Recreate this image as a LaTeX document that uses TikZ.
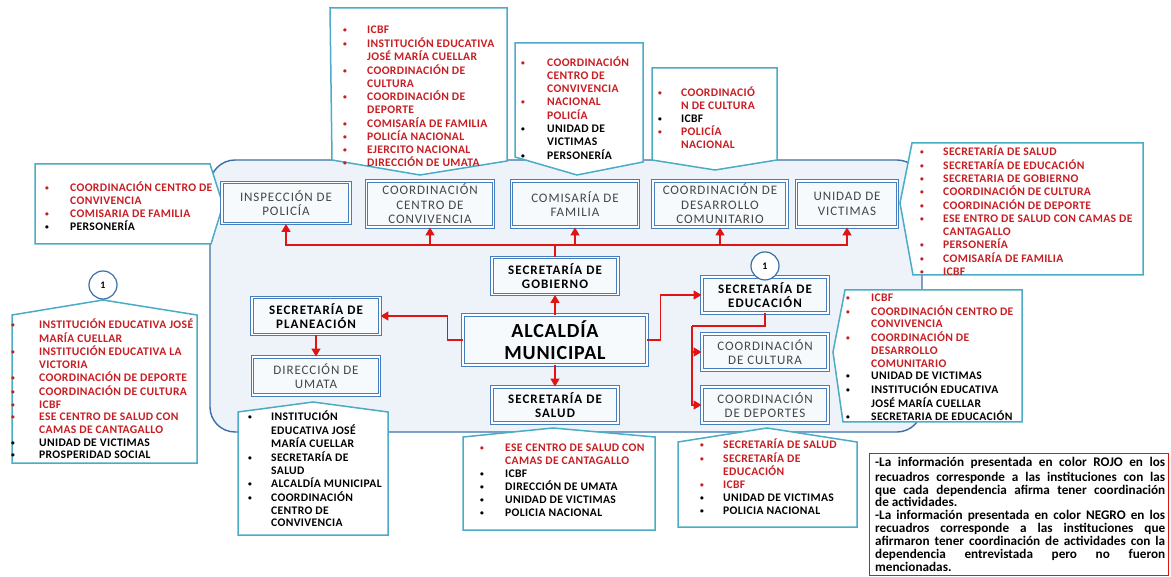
\documentclass[tikz,border=0pt]{standalone}
\usepackage{fontspec}
\setmainfont{Carlito}
\usepackage{xcolor}
\usetikzlibrary{arrows.meta, positioning}

\definecolor{rojotxt}{RGB}{200,30,35}
\definecolor{rojoflecha}{RGB}{225,20,20}
\definecolor{azulcaja}{RGB}{70,125,190}
\definecolor{azulpanel}{RGB}{60,110,170}
\definecolor{fondopanel}{RGB}{238,243,250}
\definecolor{borde}{RGB}{75,172,198}
\definecolor{grisbox}{RGB}{70,70,70}

% listas con viñetas
\newcommand{\vin}{{\fontsize{7.5}{7.5}\selectfont\raisebox{1pt}{\textbullet}}}
\newcommand{\lista}[2]{\begin{tabular}[t]{@{}p{#1}@{}l@{}}#2\end{tabular}}
\newcommand{\rb}[1]{\textcolor{rojotxt}{\vin} & \textcolor{rojotxt}{#1}\\}
\newcommand{\rc}[1]{ & \textcolor{rojotxt}{#1}\\}
\newcommand{\nb}[1]{\vin & #1\\}
\newcommand{\nc}[1]{ & #1\\}
% renglón justificado de la leyenda
\newcommand{\rj}[1]{\makebox[290pt][s]{#1}\\}

\begin{document}
\begin{tikzpicture}[x=1pt, y=-1pt,
        panel/.style={draw=azulpanel, line width=1.4pt, fill=fondopanel, rounded corners=25pt},
        caja/.style={draw=azulcaja, double=white, double distance=1.4pt, line width=0.9pt, fill=white!55!fondopanel, align=center, text=grisbox, inner sep=1pt, font=\fontsize{13}{14.5}\selectfont\addfontfeature{LetterSpace=7}},
        cajan/.style={caja, text=black, font=\bfseries\fontsize{13}{14.5}\selectfont\addfontfeature{LetterSpace=8}},
        globo/.style={draw=borde, line width=1.5pt, fill=white, line join=miter},
        lst/.style={anchor=base west, inner sep=0pt, font=\bfseries\fontsize{11.6}{12.8}\selectfont\addfontfeature{LetterSpace=3}},
        uno/.style={circle, draw=azulpanel, line width=1.2pt, fill=white, minimum size=28pt, inner sep=0pt, font=\bfseries\fontsize{10}{12}\selectfont},
        linea/.style={draw=rojoflecha, line width=1.4pt},
        flecha/.style={linea, -{Triangle[width=9pt,length=8pt]}}
    ]
    \useasboundingbox (0,0) rectangle (1171,577);

    % panel de fondo
    \draw[panel] (210,160) rectangle (922,432);

    % recuadros (globos)
    \draw[globo] (35,164) -- (210,164) -- (223,205) -- (211,244) -- (35,244) -- cycle;
    \draw[globo] (330,8) -- (507,8) -- (507,161) -- (420,175) -- (332,160) -- cycle;
    \draw[globo] (515,43) -- (643,43) -- (643,162) -- (577,175) -- (515,157) -- cycle;
    \draw[globo] (652,68) -- (777,68) -- (777,160) -- (715,170) -- (652,160) -- cycle;
    \draw[globo] (912,143) -- (1143,143) -- (1143,275) -- (913,275) -- (900,203) -- cycle;
    \draw[globo] (12,315) -- (103,300) -- (197,315) -- (197,463) -- (12,463) -- cycle;
    \draw[globo] (238,412) -- (313,402) -- (388,412) -- (388,535) -- (238,535) -- cycle;
    \draw[globo] (463,437) -- (553,428) -- (655,437) -- (655,530) -- (463,530) -- cycle;
    \draw[globo] (678,442) -- (767,428) -- (857,442) -- (857,527) -- (678,527) -- cycle;
    \draw[globo] (845,290) -- (1022,290) -- (1022,422) -- (843,422) -- (833,352) -- cycle;

    % dependencias
    \node[caja, minimum width=128pt, minimum height=41pt] (insp) at (286,203) {INSPECCIÓN DE\\POLICÍA};
    \node[caja, minimum width=127pt, minimum height=46pt] (conv) at (430,204) {COORDINACIÓN\\CENTRO DE\\CONVIVENCIA};
    \node[caja, minimum width=127pt, minimum height=46pt] (comi) at (575,204) {COMISARÍA DE\\FAMILIA};
    \node[caja, minimum width=134pt, minimum height=46pt] (desa) at (720,204) {COORDINACIÓN DE\\DESARROLLO\\COMUNITARIO};
    \node[caja, minimum width=101pt, minimum height=46pt] (unid) at (847,204) {UNIDAD DE\\VICTIMAS};
    \node[cajan, minimum width=126pt, minimum height=37pt] (gob) at (555,276) {SECRETARÍA DE\\GOBIERNO};
    \node[cajan, minimum width=184pt, minimum height=50pt, font=\bfseries\fontsize{20}{22}\selectfont\addfontfeature{LetterSpace=4}] (alc) at (555,340) {ALCALDÍA\\MUNICIPAL};
    \node[cajan, minimum width=126pt, minimum height=36pt] (sal) at (555,405) {SECRETARÍA DE\\SALUD};
    \node[cajan, minimum width=128pt, minimum height=37pt] (plan) at (316,316) {SECRETARÍA DE\\PLANEACIÓN};
    \node[caja, minimum width=127pt, minimum height=38pt] (uma) at (316,376) {DIRECCIÓN DE\\UMATA};
    \node[cajan, minimum width=126pt, minimum height=36pt] (edu) at (765,295) {SECRETARÍA DE\\EDUCACIÓN};
    \node[caja, minimum width=126pt, minimum height=36pt] (cult) at (765,352) {COORDINACIÓN\\DE CULTURA};
    \node[caja, minimum width=126pt, minimum height=36pt] (dep) at (765,405) {COORDINACIÓN\\DE DEPORTES};

    % conexiones
    \coordinate (bus) at (555,245);
    \coordinate (ramal) at (692,326);
    \draw[linea] (gob.north) -- (bus);
    \draw[flecha] (bus) -| (insp.south);
    \draw[flecha] (bus) -| (conv.south);
    \draw[flecha] (bus) -| (comi.south);
    \draw[flecha] (bus) -| (desa.south);
    \draw[flecha] (bus) -| (unid.south);
    \draw[flecha] (alc) -- (gob);
    \draw[flecha] (alc) -- (sal);
    \draw[flecha] (alc.west) -- ++(-15,0) |- (plan.east);
    \draw[flecha] (plan) -- (uma);
    \draw[flecha] (alc.east) -- ++(13,0) |- (edu.west);
    \draw[linea] (edu.south) |- (ramal);
    \draw[flecha] (ramal) |- (cult.west);
    \draw[flecha] (ramal) |- (dep.west);

    % marcas 1
    \node[uno] (uno1) at (103,285) {1};
    \node[uno, above=-4pt of edu] (uno2) {1};

    % textos de los recuadros
    \node[lst] (t1) at (45,191.5) {\lista{25pt}{\rb{COORDINACIÓN CENTRO DE}\rc{CONVIVENCIA}\rb{COMISARIA DE FAMILIA}\nb{PERSONERÍA}}};
    \node[lst] (t2) at (343,33.5) {\lista{24pt}{\rb{ICBF}\rb{INSTITUCIÓN EDUCATIVA}\rc{JOSÉ MARÍA CUELLAR}\rb{COORDINACIÓN DE}\rc{CULTURA}\rb{COORDINACIÓN DE}\rc{DEPORTE}\rb{COMISARÍA DE FAMILIA}\rb{POLICÍA NACIONAL}\rb{EJERCITO NACIONAL}\rb{DIRECCIÓN DE UMATA}}};
    \node[lst, font=\bfseries\fontsize{11.6}{13.1}\selectfont\addfontfeature{LetterSpace=3}] (t3) at (521,66.5) {\lista{26pt}{\rb{COORDINACIÓN}\rc{CENTRO DE}\rc{CONVIVENCIA}\rb{NACIONAL}\rc{POLICÍA}\nb{UNIDAD DE}\nc{VICTIMAS}\nb{PERSONERÍA}}};
    \node[lst] (t4) at (658,96.5) {\lista{23pt}{\rb{COORDINACIÓ}\rc{N DE CULTURA}\nb{ICBF}\rb{POLICÍA}\rc{NACIONAL}}};
    \node[lst, font=\bfseries\fontsize{11.6}{12.9}\selectfont\addfontfeature{LetterSpace=3}] (t5) at (920,155.5) {\lista{23pt}{\rb{SECRETARÍA DE SALUD}\rb{SECRETARÍA DE EDUCACIÓN}\rb{SECRETARIA DE GOBIERNO}\rb{COORDINACIÓN DE CULTURA}\rb{COORDINACIÓN DE DEPORTE}\rb{ESE ENTRO DE SALUD CON CAMAS DE}\rc{CANTAGALLO}\rb{PERSONERÍA}\rb{COMISARÍA DE FAMILIA}\rb{ICBF}}};
    \node[lst, font=\bfseries\fontsize{11.6}{12.7}\selectfont\addfontfeature{LetterSpace=3}] (t6) at (11,328.5) {\lista{28pt}{\rb{INSTITUCIÓN EDUCATIVA JOSÉ}\rc{MARÍA CUELLAR}\rb{INSTITUCIÓN EDUCATIVA LA}\rc{VICTORIA}\rb{COORDINACIÓN DE DEPORTE}\rb{COORDINACIÓN DE CULTURA}\rb{ICBF}\rb{ESE CENTRO DE SALUD CON}\rc{CAMAS DE CANTAGALLO}\nb{UNIDAD DE VICTIMAS}\nb{PROSPERIDAD SOCIAL}}};
    \node[lst] (t7) at (248,420.5) {\lista{23pt}{\nb{INSTITUCIÓN}\nc{EDUCATIVA JOSÉ}\nc{MARÍA CUELLAR}\nb{SECRETARÍA DE}\nc{SALUD}\nb{ALCALDÍA MUNICIPAL}\nb{COORDINACIÓN}\nc{CENTRO DE}\nc{CONVIVENCIA}}};
    \node[lst] (t8) at (480,451.5) {\lista{25pt}{\rb{ESE CENTRO DE SALUD CON}\rc{CAMAS DE CANTAGALLO}\nb{ICBF}\nb{DIRECCIÓN DE UMATA}\nb{UNIDAD DE VICTIMAS}\nb{POLICIA NACIONAL}}};
    \node[lst] (t9) at (700,448.5) {\lista{23pt}{\rb{SECRETARÍA DE SALUD}\rb{SECRETARÍA DE}\rc{EDUCACIÓN}\rb{ICBF}\nb{UNIDAD DE VICTIMAS}\nb{POLICIA NACIONAL}}};
    \node[lst] (t10) at (846,301.5) {\lista{25pt}{\rb{ICBF}\rb{COORDINACIÓN CENTRO DE}\rc{CONVIVENCIA}\rb{COORDINACIÓN DE}\rc{DESARROLLO}\rc{COMUNITARIO}\nb{UNIDAD DE VICTIMAS}\nb{INSTITUCIÓN EDUCATIVA}\nc{JOSÉ MARÍA CUELLAR}\nb{SECRETARIA DE EDUCACIÓN}}};

    % leyenda
    \draw[draw=rojoflecha, line width=0.8pt] (869,453) rectangle (1168,575);
    \node[anchor=north west, inner sep=0pt, align=left, font=\bfseries\fontsize{13.2}{12.9}\selectfont] (ley) at (875,457.5) {\strut\rj{-La información presentada en color ROJO en los}\rj{recuadros corresponde a las instituciones con las}\rj{que cada dependencia afirma tener coordinación}de actividades.\\\rj{-La información presentada en color NEGRO en los}\rj{recuadros corresponde a las instituciones que}\rj{afirmaron tener coordinación de actividades con la}\rj{dependencia entrevistada pero no fueron}mencionadas.};

\end{tikzpicture}
\end{document}
